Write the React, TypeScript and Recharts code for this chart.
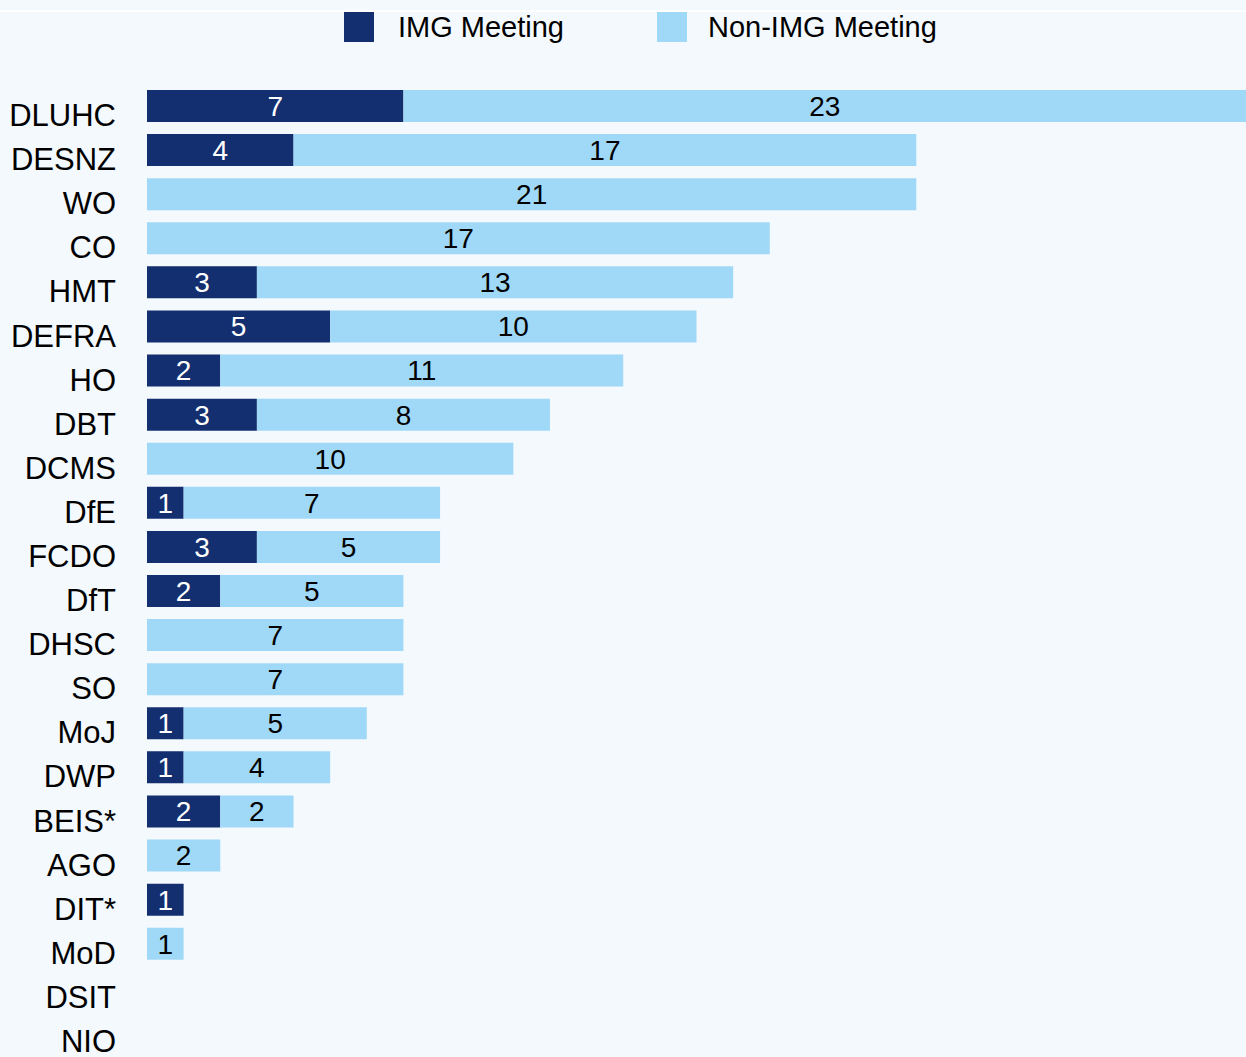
import React from 'react';
import { BarChart, Bar, XAxis, YAxis, LabelList } from 'recharts';

const categories = ['DLUHC', 'DESNZ', 'WO', 'CO', 'HMT', 'DEFRA', 'HO', 'DBT', 'DCMS', 'DfE', 'FCDO', 'DfT', 'DHSC', 'SO', 'MoJ', 'DWP', 'BEIS*', 'AGO', 'DIT*', 'MoD', 'DSIT', 'NIO'];
const imgMeetings = [7, 4, 0, 0, 3, 5, 2, 3, 0, 1, 3, 2, 0, 0, 1, 1, 2, 0, 1, 0, 0, 0];
const nonImgMeetings = [23, 17, 21, 17, 13, 10, 11, 8, 10, 7, 5, 5, 7, 7, 5, 4, 2, 2, 0, 1, 0, 0];

const DARK = '#142f70';
const LIGHT = '#a0d9f7';
const BG = '#f3f9fd';
const FONT = '"Liberation Sans", Arial, Helvetica, sans-serif';

const data = categories.map((name, i) => ({
  name,
  img: imgMeetings[i],
  nonImg: nonImgMeetings[i],
}));

const DeptTick = (props: any) => {
  const { x, y, payload } = props;
  return (
    <text x={x} y={y} dy={20} textAnchor="end" fontSize={31} fill="#000" fontFamily={FONT}>
      {payload.value}
    </text>
  );
};

const hideZero = (v: any) => (v ? v : '');

const LegendItem = ({ color, label, left, textLeft }: { color: string; label: string; left: number; textLeft: number }) => (
  <>
    <div style={{ position: 'absolute', left, top: 12, width: 30, height: 30, background: color }} />
    <div style={{ position: 'absolute', left: textLeft, top: 9, fontSize: 29, lineHeight: '36px', color: '#000', fontFamily: FONT }}>
      {label}
    </div>
  </>
);

export default function App() {
  return (
    <div style={{ position: 'absolute', left: 0, top: 0, width: 1246, height: 1057, background: BG, overflow: 'hidden' }}>
      <div style={{ position: 'absolute', left: 0, top: 10, width: 1246, height: 2, background: '#fff' }} />
      <LegendItem color={DARK} label="IMG Meeting" left={344} textLeft={398} />
      <LegendItem color={LIGHT} label="Non-IMG Meeting" left={657} textLeft={708} />
      <BarChart
        width={1246}
        height={1057}
        data={data}
        layout="vertical"
        margin={{ top: 84, right: 0, bottom: 3, left: 0 }}
        style={{ position: 'absolute', left: 0, top: 0 }}
      >
        <XAxis type="number" domain={[0, 30]} hide />
        <YAxis
          type="category"
          dataKey="name"
          width={147}
          axisLine={false}
          tickLine={false}
          tickSize={0}
          tickMargin={31}
          interval={0}
          tick={<DeptTick />}
        />
        <Bar dataKey="img" stackId="a" fill={DARK} barSize={32} isAnimationActive={false}>
          <LabelList dataKey="img" position="center" formatter={hideZero} fill="#fff" fontSize={28} fontFamily={FONT} />
        </Bar>
        <Bar dataKey="nonImg" stackId="a" fill={LIGHT} barSize={32} isAnimationActive={false}>
          <LabelList dataKey="nonImg" position="center" formatter={hideZero} fill="#000" fontSize={28} fontFamily={FONT} />
        </Bar>
      </BarChart>
    </div>
  );
}
